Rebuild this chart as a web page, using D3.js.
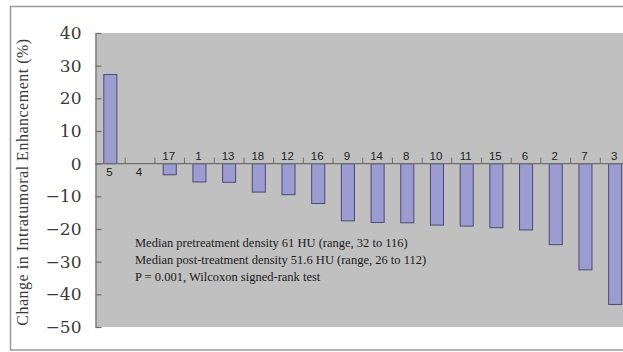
<!DOCTYPE html>
<html>
<head>
<meta charset="utf-8">
<script src="https://cdn.jsdelivr.net/npm/d3@7"></script>
<style>
  html, body { margin: 0; padding: 0; background: #ffffff; }
  svg { display: block; }
</style>
</head>
<body>
<svg id="chart" width="623" height="352"></svg>
<script>
// Patient identifiers, ordered by change in enhancement
const patients = ["5", "4", "17", "1", "13", "18", "12", "16", "9", "14", "8", "10", "11", "15", "6", "2", "7", "3"];
// Change in intratumoral enhancement (%)
const changes = [27.3, 0, -3.4, -5.6, -5.7, -8.7, -9.5, -12.2, -17.5, -18.0, -18.1, -18.8, -19.1, -19.6, -20.3, -24.8, -32.5, -43.1];
// Y axis tick values
const yTicks = [40, 30, 20, 10, 0, -10, -20, -30, -40, -50];
// Summary statistics printed inside the plot
const notes = [
  "Median pretreatment density 61 HU (range, 32 to 116)",
  "Median post-treatment density 51.6 HU (range, 26 to 112)",
  "P = 0.001, Wilcoxon signed-rank test"
];

const svg = d3.select("#chart");
const plot = { left: 95.5, right: 630, top: 33, bottom: 327 };

// Outer frame
svg.append("rect")
  .attr("x", 10.5).attr("y", 6.5)
  .attr("width", 660).attr("height", 343.5)
  .attr("fill", "#ffffff")
  .attr("stroke", "#9a9a9a").attr("stroke-width", 1.5);

// Plot background
svg.append("rect")
  .attr("x", plot.left).attr("y", plot.top)
  .attr("width", plot.right - plot.left).attr("height", plot.bottom - plot.top)
  .attr("fill", "#c0c0c0");

const y = d3.scaleLinear().domain([-50, 40]).range([plot.bottom, plot.top]);
const x = d3.scaleBand().domain(patients)
  .range([plot.left, plot.right])
  .paddingInner(0.56).paddingOuter(0.28);

// Y axis with inward ticks
const yAxis = svg.append("g")
  .attr("transform", `translate(${plot.left},0)`)
  .call(d3.axisLeft(y).tickValues(yTicks).tickSizeInner(-6).tickSizeOuter(0)
    .tickFormat(d => d < 0 ? "\u2212" + Math.abs(d) : d));
yAxis.select(".domain").attr("stroke", "#6e6e6e").attr("stroke-width", 1.2);
yAxis.selectAll(".tick line").attr("stroke", "#6e6e6e").attr("stroke-width", 1.2);
yAxis.selectAll(".tick text")
  .attr("x", -14)
  .attr("fill", "#3a3a3a")
  .style("font-family", "'DejaVu Serif', serif")
  .style("font-size", "17px");

// Bars
svg.append("g").selectAll("rect")
  .data(patients)
  .join("rect")
  .attr("x", (d) => x(d))
  .attr("width", x.bandwidth())
  .attr("y", (d, i) => y(Math.max(0, changes[i])))
  .attr("height", (d, i) => Math.abs(y(changes[i]) - y(0)))
  .attr("fill", "#9c9cd0")
  .attr("stroke", "#4a4a78")
  .attr("stroke-width", 1);

// Zero line with upward tick marks between categories
const zeroY = y(0);
svg.append("line")
  .attr("x1", plot.left).attr("x2", plot.right)
  .attr("y1", zeroY).attr("y2", zeroY)
  .attr("stroke", "#6e6e6e").attr("stroke-width", 1.2);
const step = x.step();
svg.append("g").selectAll("line")
  .data(patients.slice(0, -1))
  .join("line")
  .attr("x1", d => x(d) + x.bandwidth() / 2 + step / 2)
  .attr("x2", d => x(d) + x.bandwidth() / 2 + step / 2)
  .attr("y1", zeroY).attr("y2", zeroY - 6)
  .attr("stroke", "#6e6e6e").attr("stroke-width", 1);

// Category labels: below the axis for non-negative values, above for negative ones
svg.append("g").selectAll("text")
  .data(patients)
  .join("text")
  .attr("x", d => x(d) + x.bandwidth() / 2 - 1)
  .attr("y", (d, i) => changes[i] >= 0 ? zeroY + 12 : zeroY - 4)
  .attr("text-anchor", "middle")
  .attr("fill", "#222222")
  .style("font-family", "'Liberation Sans', Arial, sans-serif")
  .style("font-size", "11.5px")
  .text(d => d);

// Y axis title
svg.append("text")
  .attr("transform", "translate(28,182) rotate(-90)")
  .attr("text-anchor", "middle")
  .attr("fill", "#3a3a3a")
  .style("font-family", "'Liberation Serif', 'Times New Roman', serif")
  .style("font-size", "16px")
  .style("letter-spacing", "0.5px")
  .text("Change in Intratumoral Enhancement (%)");

// Statistics annotation
svg.append("g").selectAll("text")
  .data(notes)
  .join("text")
  .attr("x", 135)
  .attr("y", (d, i) => 246.5 + i * 17)
  .attr("fill", "#1a1a1a")
  .style("font-family", "'Liberation Serif', 'Times New Roman', serif")
  .style("font-size", "12.5px")
  .text(d => d);
</script>
</body>
</html>
